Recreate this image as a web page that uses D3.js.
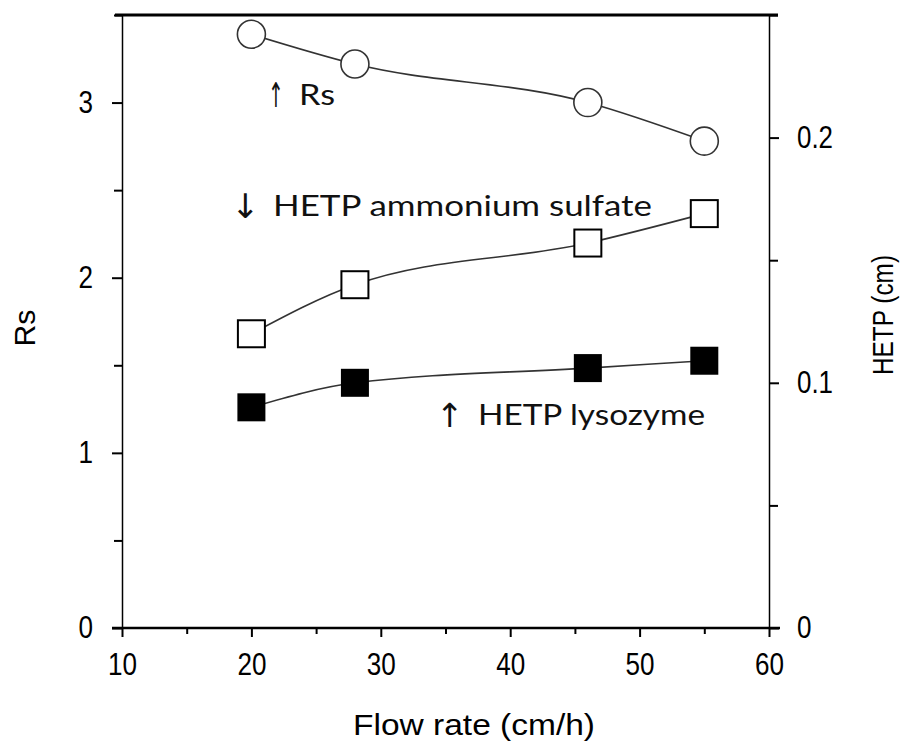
<!DOCTYPE html>
<html>
<head>
<meta charset="utf-8">
<script src="https://cdn.jsdelivr.net/npm/d3@7"></script>
<style>
  body { margin: 0; background: #fff; }
  .tick text { font-family: "Liberation Sans", Arial, sans-serif; font-size: 31px; fill: #000; }
  .title { font-family: "Liberation Sans", Arial, sans-serif; fill: #000; }
  .note { font-family: Lato, "Open Sans", sans-serif; font-size: 28px; fill: #111; }
</style>
</head>
<body>
<div id="chart"></div>
<script>
var flow = [20, 28, 46, 55];
var rs = [3.39, 3.22, 3.00, 2.78];
var hetpSulfate = [0.120, 0.140, 0.157, 0.169];
var hetpLysozyme = [0.090, 0.100, 0.106, 0.109];

var xTicks = [10, 20, 30, 40, 50, 60];
var rsTicks = [0, 1, 2, 3];
var hetpTicks = [0, 0.1, 0.2];

var margin = {top: 15, right: 136, bottom: 114, left: 122},
    width = 905 - margin.left - margin.right,
    height = 742 - margin.top - margin.bottom;

var root = d3.select("#chart").append("svg")
    .attr("width", 905)
    .attr("height", 742)
    .style("display", "block");

var svg = root.append("g")
    .attr("transform", "translate(" + margin.left + "," + margin.top + ")");

var x = d3.scaleLinear().domain([10, 60]).range([0, width]);
var yL = d3.scaleLinear().domain([0, 3.5]).range([height, 0]);
var yR = d3.scaleLinear().domain([0, 0.25]).range([height, 0]);

// squeeze digits into the narrow look of the original labels
function narrow(sel) {
  sel.selectAll(".tick text")
    .attr("lengthAdjust", "spacingAndGlyphs")
    .attr("textLength", function() {
      var t = this.textContent, w = 0;
      for (var i = 0; i < t.length; i++) w += t[i] == "." ? 7 : 14.5;
      return w;
    });
}

// minor ticks
svg.append("g")
    .call(d3.axisLeft(yL).tickValues([0.5, 1.5, 2.5, 3.5]).tickSize(8).tickFormat(""))
    .call(function(g) { g.select(".domain").remove(); g.selectAll("line").attr("stroke-width", 2); });
svg.append("g")
    .attr("transform", "translate(" + width + ",0)")
    .call(d3.axisRight(yR).tickValues([0.05, 0.15, 0.25]).tickSize(9).tickFormat(""))
    .call(function(g) { g.select(".domain").remove(); g.selectAll("line").attr("stroke-width", 2); });
svg.append("g")
    .attr("transform", "translate(0," + height + ")")
    .call(d3.axisBottom(x).tickValues([15, 25, 35, 45, 55]).tickSize(6).tickFormat(""))
    .call(function(g) { g.select(".domain").remove(); g.selectAll("line").attr("stroke-width", 2); });

// major axes
svg.append("g")
    .call(d3.axisLeft(yL).tickValues(rsTicks).tickSize(10).tickSizeOuter(0).tickPadding(19).tickFormat(d3.format("d")))
    .call(function(g) { g.select(".domain").attr("stroke-width", 1.5); g.selectAll(".tick line").attr("stroke-width", 2); })
    .call(narrow);

svg.append("g")
    .attr("transform", "translate(" + width + ",0)")
    .call(d3.axisRight(yR).tickValues(hetpTicks).tickSize(10).tickSizeOuter(0).tickPadding(18).tickFormat(function(d) { return d == 0 ? "0" : d3.format(".1f")(d); }))
    .call(function(g) { g.select(".domain").attr("stroke-width", 1.5); g.selectAll(".tick line").attr("stroke-width", 2); })
    .call(narrow);

svg.append("g")
    .attr("transform", "translate(0," + height + ")")
    .call(d3.axisBottom(x).tickValues(xTicks).tickSize(9).tickSizeOuter(0).tickPadding(16).tickFormat(d3.format("d")))
    .call(function(g) { g.select(".domain").attr("stroke-width", 2.5).attr("d", "M-10,0H" + (width + 11)); g.selectAll(".tick line").attr("stroke-width", 2); })
    .call(narrow);

// top border of the frame
root.append("path")
    .attr("d", "M" + (margin.left - 7) + "," + (margin.top + yL(3.5)) + "H" + (margin.left + x(60) + 9))
    .attr("stroke", "#000")
    .attr("stroke-width", 3);

// axis titles
svg.append("text")
    .attr("class", "title")
    .attr("transform", "translate(" + (35 - margin.left) + "," + (328 - margin.top) + ") rotate(-90)")
    .attr("text-anchor", "middle")
    .attr("font-size", 30)
    .attr("textLength", 37).attr("lengthAdjust", "spacingAndGlyphs")
    .text("Rs");

svg.append("text")
    .attr("class", "title")
    .attr("transform", "translate(" + (893 - margin.left) + "," + (315 - margin.top) + ") rotate(-90)")
    .attr("text-anchor", "middle")
    .attr("font-size", 30)
    .attr("textLength", 120).attr("lengthAdjust", "spacingAndGlyphs")
    .text("HETP (cm)");

svg.append("text")
    .attr("class", "title")
    .attr("x", 474 - margin.left)
    .attr("y", 735 - margin.top)
    .attr("text-anchor", "middle")
    .attr("font-size", 29)
    .attr("textLength", 242).attr("lengthAdjust", "spacingAndGlyphs")
    .text("Flow rate (cm/h)");

// lines
function series(vals, y) { return flow.map(function(f, i) { return [x(f), y(vals[i])]; }); }
var line = d3.line().curve(d3.curveMonotoneX);

[[rs, yL], [hetpSulfate, yR], [hetpLysozyme, yR]].forEach(function(s) {
  svg.append("path")
      .attr("d", line(series(s[0], s[1])))
      .attr("fill", "none")
      .attr("stroke", "#333")
      .attr("stroke-width", 1.6);
});

// markers
svg.selectAll(".rs")
    .data(flow)
  .enter().append("circle")
    .attr("cx", function(d) { return x(d); })
    .attr("cy", function(d, i) { return yL(rs[i]); })
    .attr("r", 14)
    .attr("fill", "#fff")
    .attr("stroke", "#333")
    .attr("stroke-width", 1.6);

svg.selectAll(".sulfate")
    .data(flow)
  .enter().append("rect")
    .attr("x", function(d) { return x(d) - 13.5; })
    .attr("y", function(d, i) { return yR(hetpSulfate[i]) - 13.5; })
    .attr("width", 27).attr("height", 27)
    .attr("fill", "#fff")
    .attr("stroke", "#000")
    .attr("stroke-width", 2);

svg.selectAll(".lysozyme")
    .data(flow)
  .enter().append("rect")
    .attr("x", function(d) { return x(d) - 14; })
    .attr("y", function(d, i) { return yR(hetpLysozyme[i]) - 14; })
    .attr("width", 28).attr("height", 28)
    .attr("fill", "#000");

// annotations
function note(arrow, arrowX, arrowSize, sx, label, labelX, baseY, len) {
  svg.append("text")
      .attr("transform", "translate(" + (arrowX - margin.left) + "," + (baseY + 2 - margin.top) + ") scale(" + sx + ",1)")
      .attr("font-family", "DejaVu Sans").attr("font-size", arrowSize).attr("fill", "#111")
      .text(arrow);
  svg.append("text")
      .attr("class", "note")
      .attr("x", labelX - margin.left).attr("y", baseY - margin.top)
      .attr("textLength", len).attr("lengthAdjust", "spacingAndGlyphs")
      .text(label);
}
note("\u2191", 268, 34, 0.55, "Rs", 299, 105, 36);
note("\u2193", 231, 34, 1, "HETP ammonium sulfate", 273, 216, 379);
note("\u2191", 436, 33, 1, "HETP lysozyme", 478, 425, 227);
</script>
</body>
</html>
